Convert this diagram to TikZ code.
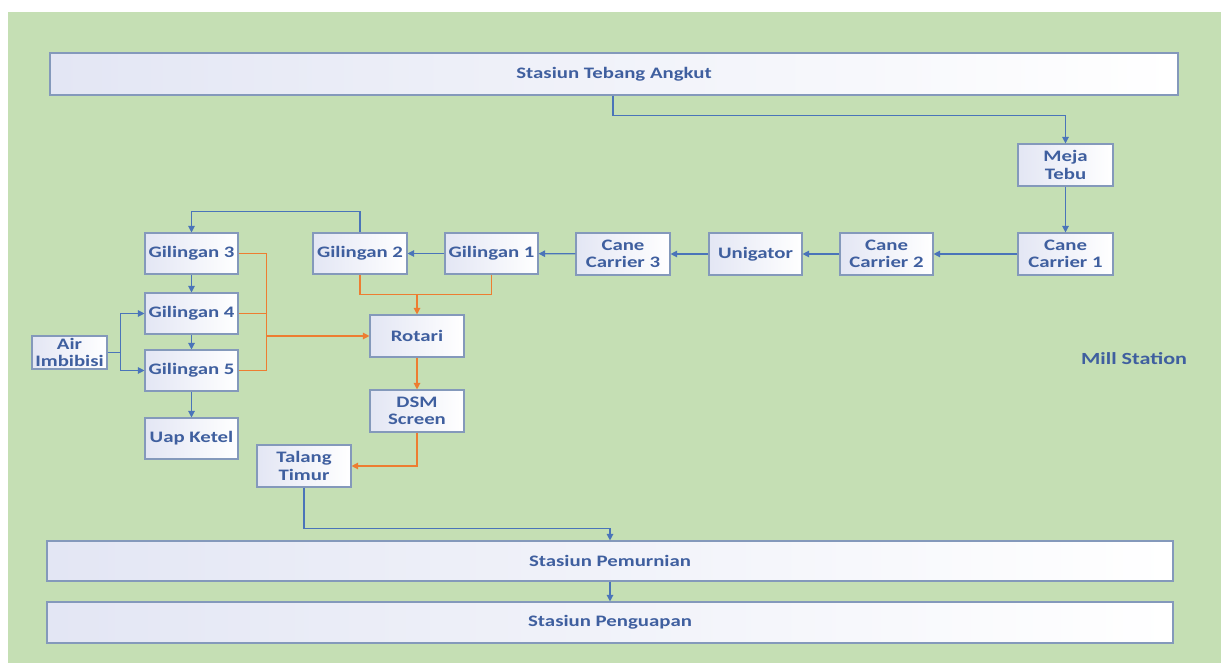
\documentclass[tikz,border=0pt]{standalone}
\usepackage{fontspec}
\usetikzlibrary{arrows.meta,calc}
\newfontfamily\boxfont{Carlito}[FakeStretch=1.3]
\definecolor{bggreen}{HTML}{C5DFB4}
\definecolor{txtblue}{HTML}{3F5F9F}
\definecolor{lineblue}{HTML}{4A74B9}
\definecolor{lineorange}{HTML}{ED7D31}
\definecolor{boxborder}{HTML}{8499BB}
\definecolor{boxleft}{HTML}{E3E6F4}
\tikzset{
  pbox/.style={draw=boxborder, line width=1.1pt, left color=boxleft, right color=white,
    text=txtblue, font=\boxfont\bfseries\fontsize{16}{17.5}\selectfont, align=center,
    inner sep=0pt, minimum width=93pt, minimum height=41pt},
  wbox/.style={pbox, minimum width=1126pt, minimum height=41pt},
  bflow/.style={draw=lineblue, line width=1.2pt, -{Triangle[length=6.5pt,width=6.5pt]}},
  bline/.style={draw=lineblue, line width=1.2pt},
  oflow/.style={draw=lineorange, line width=1.2pt, -{Triangle[length=6.5pt,width=6.5pt]}},
  oline/.style={draw=lineorange, line width=1.2pt},
}
\begin{document}
\begin{tikzpicture}[x=1pt,y=-1pt]
\useasboundingbox (0,0) rectangle (1229,663);
\fill[white] (0,0) rectangle (1229,663);
\fill[bggreen] (8,12) rectangle (1221,663);

% wide station boxes
\node[wbox, minimum width=1128pt, minimum height=42pt] (tebang) at (614,74) {Stasiun Tebang Angkut};
\node[wbox, minimum height=40pt] (pemurnian) at (610,561) {Stasiun Pemurnian};
\node[wbox] (penguapan) at (610,622.5) {Stasiun Penguapan};

% process boxes
\node[pbox, minimum width=95pt, minimum height=42pt] (meja) at (1065.5,165) {Meja\\Tebu};
\node[pbox, minimum width=95pt, minimum height=42pt] (cc1) at (1065.5,254) {Cane\\Carrier 1};
\node[pbox, minimum height=42pt] (cc2) at (886.5,254) {Cane\\Carrier 2};
\node[pbox, minimum height=42pt] (unigator) at (755.5,254) {Unigator};
\node[pbox, minimum width=94pt, minimum height=42pt] (cc3) at (623,254) {Cane\\Carrier 3};
\node[pbox] (g1) at (491.5,253.5) {Gilingan 1};
\node[pbox, minimum width=94pt] (g2) at (360,253.5) {Gilingan 2};
\node[pbox] (g3) at (191.5,253.5) {Gilingan 3};
\node[pbox] (g4) at (191.5,313.5) {Gilingan 4};
\node[pbox] (g5) at (191.5,370.5) {Gilingan 5};
\node[pbox] (uap) at (191.5,438.5) {Uap Ketel};
\node[pbox, minimum width=75pt, minimum height=33pt] (air) at (69.5,352.5) {Air\\Imbibisi};
\node[pbox, minimum width=94pt, minimum height=42pt] (rotari) at (417,336) {Rotari};
\node[pbox, minimum width=94pt, minimum height=42pt] (dsm) at (417,411) {DSM\\Screen};
\node[pbox, minimum width=94pt, minimum height=42pt] (talang) at (304,466) {Talang\\Timur};

\node[text=txtblue, font=\boxfont\bfseries\fontsize{17}{19}\selectfont, inner sep=0pt] (mill) at (1134,359) {Mill Station};

% blue flow
\coordinate (t1) at ($(tebang.south)+(-1,0)$);
\draw[bflow] (t1) -- ++(0,20) -| (meja.north);
\draw[bflow] (meja) -- (cc1);
\draw[bflow] (cc1) -- (cc2);
\draw[bflow] (cc2) -- (unigator);
\draw[bflow] (unigator) -- (cc3);
\draw[bflow] (cc3) -- (g1);
\draw[bflow] (g1) -- (g2);
\draw[bflow] (g2.north) -- ++(0,-21) -| (g3.north);
\draw[bflow] (g3) -- (g4);
\draw[bflow] (g4) -- (g5);
\draw[bflow] (g5) -- (uap);
\coordinate (airj) at ($(air.east)+(13,0)$);
\draw[bline] (air.east) -- (airj);
\draw[bflow] (airj) |- (g4.west);
\draw[bflow] (airj) |- (g5.west);
\draw[bflow] (talang.south) -- ++(0,41) -| (pemurnian.north);
\draw[bflow] (pemurnian) -- (penguapan);

% orange flow
\coordinate (oj1) at ($(g2.south)+(0,20)$);
\draw[oline] (g2.south) -- (oj1) -| (g1.south);
\draw[oflow] (oj1 -| rotari.north) -- (rotari.north);
\coordinate (oj2) at ($(g3.east)+(28,0)$);
\draw[oline] (g3.east) -- (oj2) |- (g5.east);
\draw[oline] (g4.east) -- (g4.east -| oj2);
\draw[oflow] (rotari.west -| oj2) -- (rotari.west);
\draw[oflow] (rotari) -- (dsm);
\draw[oflow] (dsm.south) |- (talang.east);
\end{tikzpicture}
\end{document}
